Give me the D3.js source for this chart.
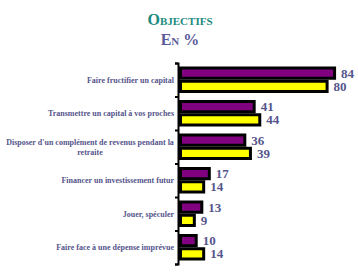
<!DOCTYPE html>
<html>
<head>
<meta charset="utf-8">
<script src="https://cdn.jsdelivr.net/npm/d3@7"></script>
<style>
  body { margin: 0; background: #fff; }
  svg { display: block; }
  text { font-family: "Liberation Serif", "DejaVu Serif", serif; font-weight: bold; }
</style>
</head>
<body>
<svg id="chart" width="358" height="273"></svg>
<script>
const categories = [
    ["Faire fructifier un capital"],
    ["Transmettre un capital à vos proches"],
    ["Disposer d'un complément de revenus pendant la", "retraite"],
    ["Financer un investissement futur"],
    ["Jouer, spéculer"],
    ["Faire face à une dépense imprévue"]
];
const seriesA = [84, 41, 36, 17, 13, 10];
const seriesB = [80, 44, 39, 14, 9, 14];
const seriesColors = ["#800080", "#ffff00"];

const textColor = "#55558c";
const svg = d3.select("#chart");

// title
svg.append("text")
    .attr("x", 180).attr("y", 25)
    .attr("text-anchor", "middle")
    .attr("font-size", 16).attr("fill", "#1a8a80")
    .style("font-variant", "small-caps")
    .text("Objectifs");
svg.append("text")
    .attr("x", 180).attr("y", 45)
    .attr("text-anchor", "middle")
    .attr("font-size", 16).attr("fill", "#5a5a9a")
    .style("font-variant", "small-caps")
    .text("En %");

var idx = d3.range(categories.length);
var y0 = d3.scaleBand().domain(idx).range([63, 264]);
var y1 = d3.scaleBand().domain([0, 1]).range([3.5, y0.bandwidth() - 3.5]);
var x = d3.scaleLinear().domain([0, 100]).range([179, 366]);

// axis with ticks on band boundaries
var yEdge = d3.scaleLinear().domain([0, categories.length]).range([63, 264]);
svg.append("g")
    .attr("transform", "translate(178,0)")
    .call(d3.axisLeft(yEdge).ticks(categories.length).tickSize(3).tickSizeOuter(3).tickFormat(""))
    .call(g => g.select(".domain").attr("stroke-width", 2))
    .call(g => g.selectAll(".tick line").attr("stroke-width", 2));

// category labels
var labels = svg.append("g");
idx.forEach(function (i) {
    var lines = categories[i];
    var cy = y0(i) + y0.bandwidth() / 2;
    var multi = lines.length > 1;
    var t = labels.append("text")
        .attr("text-anchor", multi ? "middle" : "end")
        .attr("font-size", 8).attr("fill", textColor);
    lines.forEach(function (ln, j) {
        t.append("tspan")
            .attr("x", multi ? 90 : 174)
            .attr("y", cy + 3 + (j - (lines.length - 1) / 2) * 10)
            .text(ln);
    });
});

// bars
[seriesA, seriesB].forEach(function (values, s) {
    var g = svg.append("g");
    g.selectAll("rect")
        .data(values)
        .enter()
        .append("rect")
            .attr("x", x(0) + 1.5)
            .attr("y", (d, i) => y0(i) + y1(s) + 1.5)
            .attr("width", d => x(d) - x(0) - 3)
            .attr("height", y1.bandwidth() - 3)
            .attr("fill", seriesColors[s])
            .attr("stroke", "#000")
            .attr("stroke-width", 3);
    g.selectAll("text")
        .data(values)
        .enter()
        .append("text")
            .attr("x", d => x(d) + 5)
            .attr("y", (d, i) => y0(i) + y1(s) + y1.bandwidth() / 2 + 4.5)
            .attr("font-size", 13).attr("fill", textColor)
            .text(d => d);
});
</script>
</body>
</html>
